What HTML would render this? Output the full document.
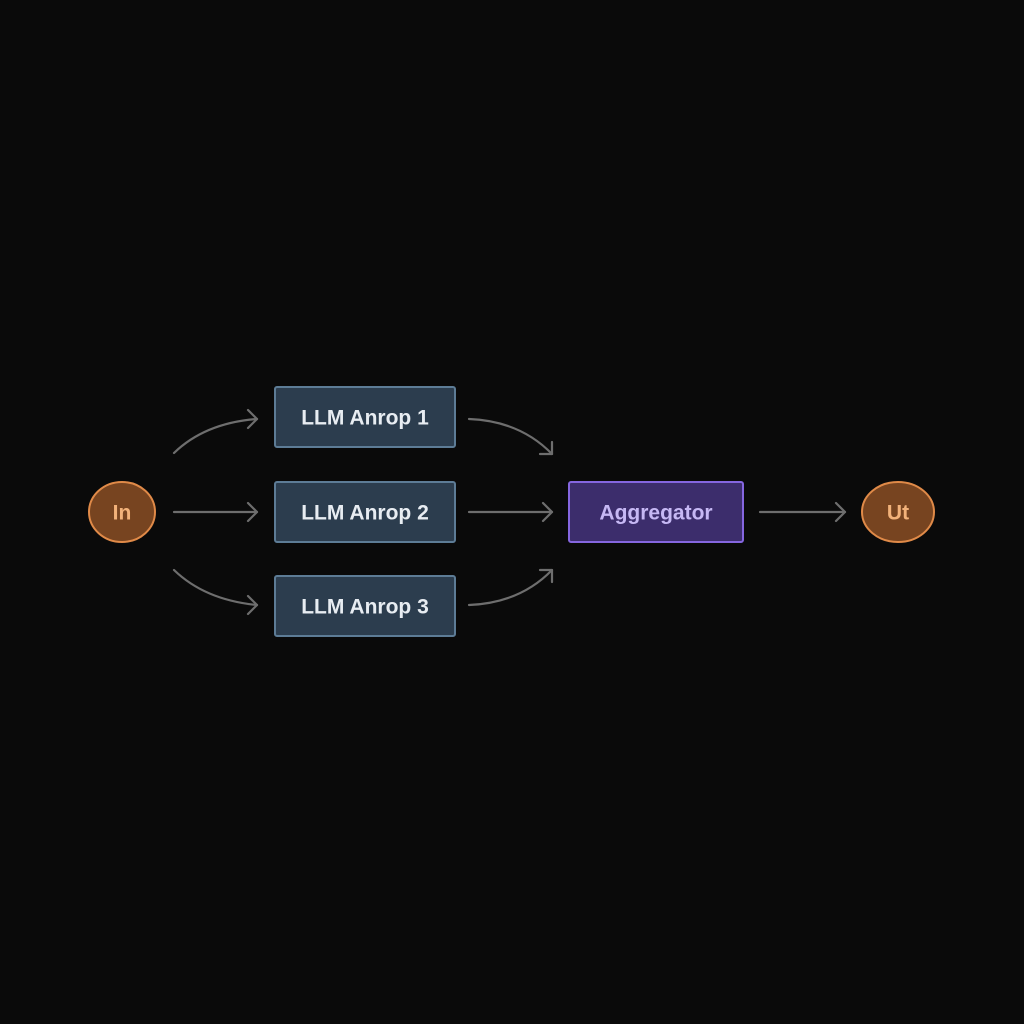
<!DOCTYPE html>
<html><head><meta charset="utf-8"><style>
html,body{margin:0;padding:0;background:#0a0a0a;}
svg{display:block;}
text{font-family:"Liberation Sans",sans-serif;font-size:21px;font-weight:bold;text-anchor:middle;dominant-baseline:central;}
</style></head><body>
<svg width="1024" height="1024" viewBox="0 0 1024 1024">
<rect width="1024" height="1024" fill="#0a0a0a"/>
<g fill="none" stroke="#6e6e6e" stroke-width="2.2" stroke-linecap="round" stroke-linejoin="round">
<path d="M174 453 Q205 423 257 419"/><path d="M248 410 L257 419 L248 428"/>
<path d="M174 512 L257 512"/><path d="M248 503 L257 512 L248 521"/>
<path d="M174 570 Q205 600 257 605"/><path d="M248 596 L257 605 L248 614"/>
<path d="M469 419 Q520 421 552 454"/><path d="M540 454 L552 454 L552 442"/>
<path d="M469 512 L552 512"/><path d="M543 503 L552 512 L543 521"/>
<path d="M469 605 Q520 603 552 570"/><path d="M540 570 L552 570 L552 582"/>
<path d="M760 512 L845 512"/><path d="M836 503 L845 512 L836 521"/>
</g>
<ellipse cx="122" cy="512" rx="33" ry="30" fill="#774420" stroke="#e08a48" stroke-width="2"/>
<text x="122" y="513" fill="#f2b27a">In</text>
<g fill="#2c3d4e" stroke="#5d7c96" stroke-width="2">
<rect x="275" y="387" width="180" height="60" rx="2"/>
<rect x="275" y="482" width="180" height="60" rx="2"/>
<rect x="275" y="576" width="180" height="60" rx="2"/>
</g>
<text x="365" y="418" fill="#e8edf2">LLM Anrop 1</text>
<text x="365" y="513" fill="#e8edf2">LLM Anrop 2</text>
<text x="365" y="607" fill="#e8edf2">LLM Anrop 3</text>
<rect x="569" y="482" width="174" height="60" rx="2" fill="#3c2d6c" stroke="#8566e0" stroke-width="2"/>
<text x="656" y="513" fill="#c6b8f4">Aggregator</text>
<ellipse cx="898" cy="512" rx="36" ry="30" fill="#774420" stroke="#e08a48" stroke-width="2"/>
<text x="898" y="513" fill="#f2b27a">Ut</text>
</svg>
</body></html>
